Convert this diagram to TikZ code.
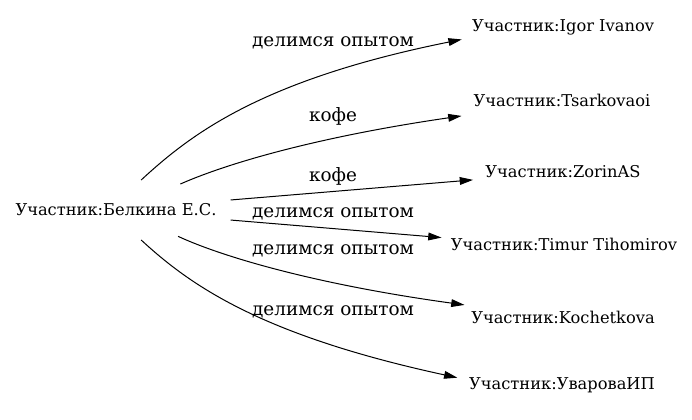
\documentclass[tikz,border=0pt]{standalone}
\usepackage{fontspec}
\setmainfont{DejaVu Serif}
\usetikzlibrary{arrows.meta,shapes.geometric}
\begin{document}
\begin{tikzpicture}[x=0.75pt,y=-0.75pt,
  ptext/.style={inner sep=0pt,font=\fontsize{12.2pt}{14pt}\selectfont},
  person/.style={ellipse,inner sep=0pt,minimum height=39pt},
  elabel/.style={inner sep=0pt,font=\fontsize{13.8pt}{16pt}\selectfont},
  link/.style={draw=black,line width=0.75pt,-{Triangle[length=10pt,width=5.8pt]}}]
\useasboundingbox (0,0) rectangle (692,419);
\node[person,minimum width=181.5pt,minimum height=45.6pt,label={[ptext]center:{Участник:Белкина Е.С.}}] (s) at (116,210) {};
\node[person,minimum width=172pt,label={[ptext]center:{Участник:Igor Ivanov}}] (t1) at (563,27) {};
\node[person,minimum width=189pt,label={[ptext]center:{Участник:Tsarkovaoi}}] (t2) at (562,100) {};
\node[person,minimum width=141pt,label={[ptext]center:{Участник:ZorinAS}}] (t3) at (563,172) {};
\node[person,minimum width=189pt,label={[ptext]center:{Участник:Timur Tihomirov}}] (t4) at (564,244) {};
\node[person,minimum width=166pt,label={[ptext]center:{Участник:Kochetkova}}] (t5) at (563,317) {};
\node[person,minimum width=163pt,label={[ptext]center:{Участник:УвароваИП}}] (t6) at (562,385) {};
\node[elabel] (l1) at (333,43) {делимся опытом};
\node[elabel] (l2) at (333,116) {кофе};
\node[elabel] (l3) at (333,176) {кофе};
\node[elabel] (l4) at (333,214) {делимся опытом};
\node[elabel] (l5) at (333,251) {делимся опытом};
\node[elabel] (l6) at (333,312) {делимся опытом};
\draw[link] (s.50) .. controls (190,135) and (260,80) .. (t1.187.4);
\draw[link] (s.22.4) .. controls (235,160) and (330,135) .. (t2.189.2);
\draw[link] (s.5.6) -- (t3.185.8);
\draw[link] (s.-5.6) -- (t4.177.2);
\draw[link] (s.-23.6) .. controls (225,258) and (320,285) .. (t5.173.8);
\draw[link] (s.-50) .. controls (190,285) and (260,335) .. (t6.176.8);
\end{tikzpicture}
\end{document}
